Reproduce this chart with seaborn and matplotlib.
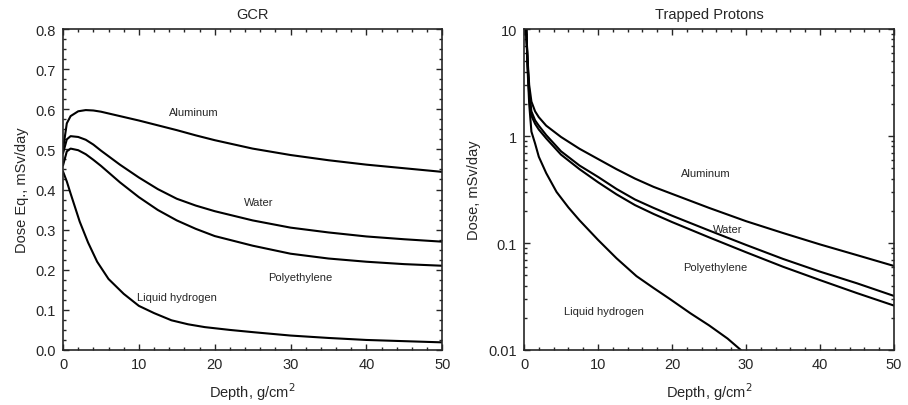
import numpy as np
import pandas as pd
import seaborn as sns
import matplotlib
matplotlib.use("Agg")
import matplotlib.pyplot as plt
from matplotlib.ticker import MultipleLocator, LogLocator, NullFormatter, FormatStrFormatter

# GCR dose equivalent, mSv/day
gcr_depth = [0, 0.5, 1, 2, 3, 4, 5, 7.5, 10, 12.5, 15, 17.5, 20, 25, 30, 35, 40, 45, 50]
gcr_aluminum = [0.50, 0.565, 0.583, 0.595, 0.598, 0.597, 0.594, 0.583, 0.572, 0.560,
                0.548, 0.535, 0.523, 0.502, 0.486, 0.473, 0.462, 0.453, 0.444]
gcr_water = [0.49, 0.525, 0.533, 0.531, 0.524, 0.512, 0.497, 0.462, 0.430, 0.401,
             0.377, 0.360, 0.346, 0.323, 0.305, 0.293, 0.283, 0.276, 0.270]
gcr_poly = [0.46, 0.495, 0.502, 0.498, 0.488, 0.474, 0.459, 0.418, 0.381, 0.349,
            0.323, 0.302, 0.284, 0.260, 0.240, 0.228, 0.220, 0.214, 0.210]
gcr_h2_depth = [0, 0.5, 1, 2.2, 3.3, 4.5, 6, 8, 10, 12, 14.3, 16.5, 18.7, 22, 25.3,
                30, 35, 40, 45, 50]
gcr_h2 = [0.445, 0.42, 0.39, 0.32, 0.268, 0.22, 0.177, 0.140, 0.110, 0.092, 0.074,
          0.064, 0.057, 0.050, 0.044, 0.036, 0.030, 0.025, 0.022, 0.019]

# Trapped protons dose, mSv/day
tp_depth = [0.3, 0.5, 0.7, 1, 1.5, 2, 3, 5, 7.5, 10, 12.5, 15, 17.5, 20, 25, 30,
            35, 40, 45, 50]
tp_aluminum = [10, 5.0, 3.0, 2.1, 1.7, 1.5, 1.25, 0.98, 0.76, 0.61, 0.49, 0.40,
               0.335, 0.288, 0.213, 0.160, 0.124, 0.097, 0.077, 0.061]
tp_water = [10, 4.6, 2.6, 1.7, 1.4, 1.25, 1.02, 0.72, 0.53, 0.415, 0.32, 0.255,
            0.213, 0.18, 0.131, 0.096, 0.071, 0.054, 0.042, 0.032]
tp_poly = [10, 4.4, 2.4, 1.55, 1.3, 1.15, 0.95, 0.67, 0.49, 0.37, 0.285, 0.226,
           0.187, 0.157, 0.113, 0.082, 0.060, 0.045, 0.034, 0.026]
tp_h2_depth = [0.3, 0.5, 0.7, 1, 1.5, 2, 3, 4.4, 6, 7.5, 10, 12.5, 15.2, 17.5,
               19.7, 22.5, 25, 27.5, 29.3]
tp_h2 = [10, 4.0, 2.0, 1.1, 0.85, 0.64, 0.45, 0.30, 0.215, 0.163, 0.107, 0.072,
         0.049, 0.038, 0.030, 0.022, 0.017, 0.0128, 0.01]

materials = ["Aluminum", "Water", "Polyethylene", "Liquid hydrogen"]


def build_df(curves):
    frames = []
    for name, (x, y) in zip(materials, curves):
        frames.append(pd.DataFrame({"depth": x, "dose": y, "material": name}))
    return pd.concat(frames, ignore_index=True)


gcr_df = build_df([(gcr_depth, gcr_aluminum), (gcr_depth, gcr_water),
                   (gcr_depth, gcr_poly), (gcr_h2_depth, gcr_h2)])
tp_df = build_df([(tp_depth, tp_aluminum), (tp_depth, tp_water),
                  (tp_depth, tp_poly), (tp_h2_depth, tp_h2)])

sns.set_style("ticks")
plt.rcParams["font.family"] = ["Liberation Sans", "DejaVu Sans"]

fig = plt.figure(figsize=(9.08, 4.06), dpi=100)
ax1 = fig.add_axes([0.0694, 0.1355, 0.4176, 0.7905])
ax2 = fig.add_axes([0.5771, 0.1355, 0.4075, 0.7905])

palette = {m: "black" for m in materials}

sns.lineplot(data=gcr_df, x="depth", y="dose", hue="material", palette=palette,
             legend=False, ax=ax1, linewidth=1.5, sort=False, estimator=None)
sns.lineplot(data=tp_df, x="depth", y="dose", hue="material", palette=palette,
             legend=False, ax=ax2, linewidth=1.5, sort=False, estimator=None)

ax1.set_xlim(0, 50)
ax1.set_ylim(0, 0.8)
ax1.yaxis.set_major_locator(MultipleLocator(0.1))
ax1.yaxis.set_minor_locator(MultipleLocator(0.025))
ax1.xaxis.set_major_locator(MultipleLocator(10))
ax1.xaxis.set_minor_locator(MultipleLocator(2))
ax1.yaxis.set_major_formatter(FormatStrFormatter("%.1f"))

ax2.set_yscale("log")
ax2.set_xlim(0, 50)
ax2.set_ylim(0.01, 10)
ax2.xaxis.set_major_locator(MultipleLocator(10))
ax2.xaxis.set_minor_locator(MultipleLocator(2))
ax2.yaxis.set_minor_locator(LogLocator(base=10, subs=np.arange(2, 10)))
ax2.yaxis.set_minor_formatter(NullFormatter())
ax2.set_yticks([0.01, 0.1, 1, 10])
ax2.set_yticklabels(["0.01", "0.1", "1", "10"])

for ax in (ax1, ax2):
    ax.tick_params(which="both", direction="in", top=True, right=True,
                   labelsize=10.5, width=1)
    ax.tick_params(which="major", length=4, pad=5)
    ax.tick_params(which="minor", length=2)
    for s in ax.spines.values():
        s.set_linewidth(1.2)
    ax.set_xlabel("Depth, g/cm$^2$", fontsize=10.5, labelpad=7)

ax1.set_ylabel("Dose Eq., mSv/day", fontsize=10.5, labelpad=5)
ax2.set_ylabel("Dose, mSv/day", fontsize=10.5, labelpad=5)
ax1.set_title("GCR", fontsize=10.5, pad=8)
ax2.set_title("Trapped Protons", fontsize=10.5, pad=8)

lab = dict(fontsize=8, ha="center", va="center")
ax1.text(17.2, 0.592, "Aluminum", **lab)
ax1.text(25.8, 0.368, "Water", **lab)
ax1.text(31.3, 0.181, "Polyethylene", **lab)
ax1.text(15.0, 0.131, "Liquid hydrogen", **lab)

ax2.text(24.5, 0.45, "Aluminum", **lab)
ax2.text(27.5, 0.135, "Water", **lab)
ax2.text(25.9, 0.060, "Polyethylene", **lab)
ax2.text(10.8, 0.023, "Liquid hydrogen", **lab)

fig.savefig("out.png", dpi=100)
